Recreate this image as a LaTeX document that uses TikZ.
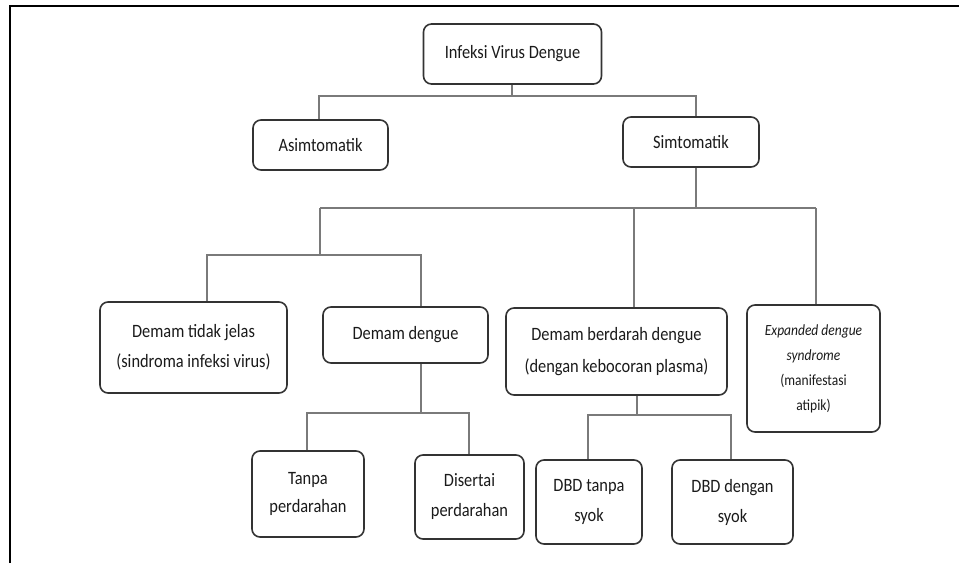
\documentclass[tikz,border=0pt]{standalone}
\usepackage{fontspec}
\setmainfont{Carlito}
\usepackage{graphicx}
\newcommand{\vs}[1]{\scalebox{1}[1.15]{#1}}
\definecolor{boxc}{HTML}{333333}
\definecolor{linec}{HTML}{7A7A7A}
\definecolor{txt}{HTML}{1A1A1A}
\begin{document}
\begin{tikzpicture}[x=1pt,y=-1pt,
  box/.style={draw=boxc, line width=1.6pt, rounded corners=8pt, align=center, inner sep=0pt, text=txt},
  conn/.style={draw=linec, line width=1.2pt}]
\useasboundingbox (0,0) rectangle (959,563);
% frame
\draw[line width=2pt, black] (10,563) -- (10,6) -- (959,6);

% nodes
\node[box, minimum width=178pt, minimum height=60pt, font=\fontsize{16.4}{20}\selectfont] (top) at (512.5,54) {\vs{Infeksi Virus Dengue}};
\node[box, minimum width=135pt, minimum height=50pt, font=\fontsize{16.4}{20}\selectfont] (asim) at (320.5,145) {\vs{Asimtomatik}};
\node[box, minimum width=136pt, minimum height=50pt, font=\fontsize{16.4}{20}\selectfont] (simt) at (691,142) {\vs{Simtomatik}};
\node[box, minimum width=187pt, minimum height=91pt, font=\fontsize{16.4}{30}\selectfont] (dtj) at (193.5,347.5) {\vs{Demam tidak jelas}\\\vs{(sindroma infeksi virus)}};
\node[box, minimum width=165pt, minimum height=56pt, font=\fontsize{16.4}{20}\selectfont] (dd) at (405.5,335) {\vs{Demam dengue}};
\node[box, minimum width=221pt, minimum height=87pt, font=\fontsize{16.4}{32}\selectfont] (dbd) at (616.5,351.5) {\vs{Demam berdarah dengue}\\\vs{(dengan kebocoran plasma)}};
\node[box, minimum width=133pt, minimum height=127pt, font=\fontsize{13.5}{25}\selectfont] (exp) at (813.5,368.5) {\vs{\textit{Expanded dengue}}\\\vs{\textit{syndrome}}\\\vs{(manifestasi}\\\vs{atipik)}};
\node[box, minimum width=112pt, minimum height=86pt, font=\fontsize{16.4}{28}\selectfont] (tanpa) at (308,494) {\vs{Tanpa}\\\vs{perdarahan}};
\node[box, minimum width=109pt, minimum height=84pt, font=\fontsize{16.4}{30}\selectfont] (dis) at (469.5,497) {\vs{Disertai}\\\vs{perdarahan}};
\node[box, minimum width=106pt, minimum height=84pt, font=\fontsize{16.4}{30}\selectfont] (dbdt) at (589,502) {\vs{DBD tanpa}\\\vs{syok}};
\node[box, minimum width=121pt, minimum height=84pt, font=\fontsize{16.4}{30}\selectfont] (dbdd) at (732.5,502) {\vs{DBD dengan}\\\vs{syok}};

% junctions
\coordinate (j1) at (512,96);
\coordinate (h1l) at (319,96);
\coordinate (h1r) at (696,96);
\coordinate (s2) at (696,208);
\coordinate (h2l) at (320,208);
\coordinate (h2m) at (634,208);
\coordinate (h2r) at (816,208);
\coordinate (h3) at (320,255);
\coordinate (h3l) at (207,255);
\coordinate (h3r) at (421,255);
\coordinate (h4) at (421,413);
\coordinate (h4l) at (307,413);
\coordinate (h4r) at (469,413);
\coordinate (h5) at (637,415);
\coordinate (h5l) at (588,415);
\coordinate (h5r) at (731,415);

% connectors
\draw[conn] (top.south -| j1) -- (j1);
\draw[conn] (h1l |- asim.north) -- (h1l) -- (h1r) -- (h1r |- simt.north);
\draw[conn] (s2 |- simt.south) -- (s2);
\draw[conn] (h2l) -- (h2r);
\draw[conn] (h2m) -- (h2m |- dbd.north);
\draw[conn] (h2r) -- (h2r |- exp.north);
\draw[conn] (h2l) -- (h3);
\draw[conn] (h3l |- dtj.north) -- (h3l) -- (h3r) -- (h3r |- dd.north);
\draw[conn] (h4 |- dd.south) -- (h4);
\draw[conn] (h4l |- tanpa.north) -- (h4l) -- (h4r) -- (h4r |- dis.north);
\draw[conn] (h5 |- dbd.south) -- (h5);
\draw[conn] (h5l |- dbdt.north) -- (h5l) -- (h5r) -- (h5r |- dbdd.north);
\end{tikzpicture}
\end{document}
